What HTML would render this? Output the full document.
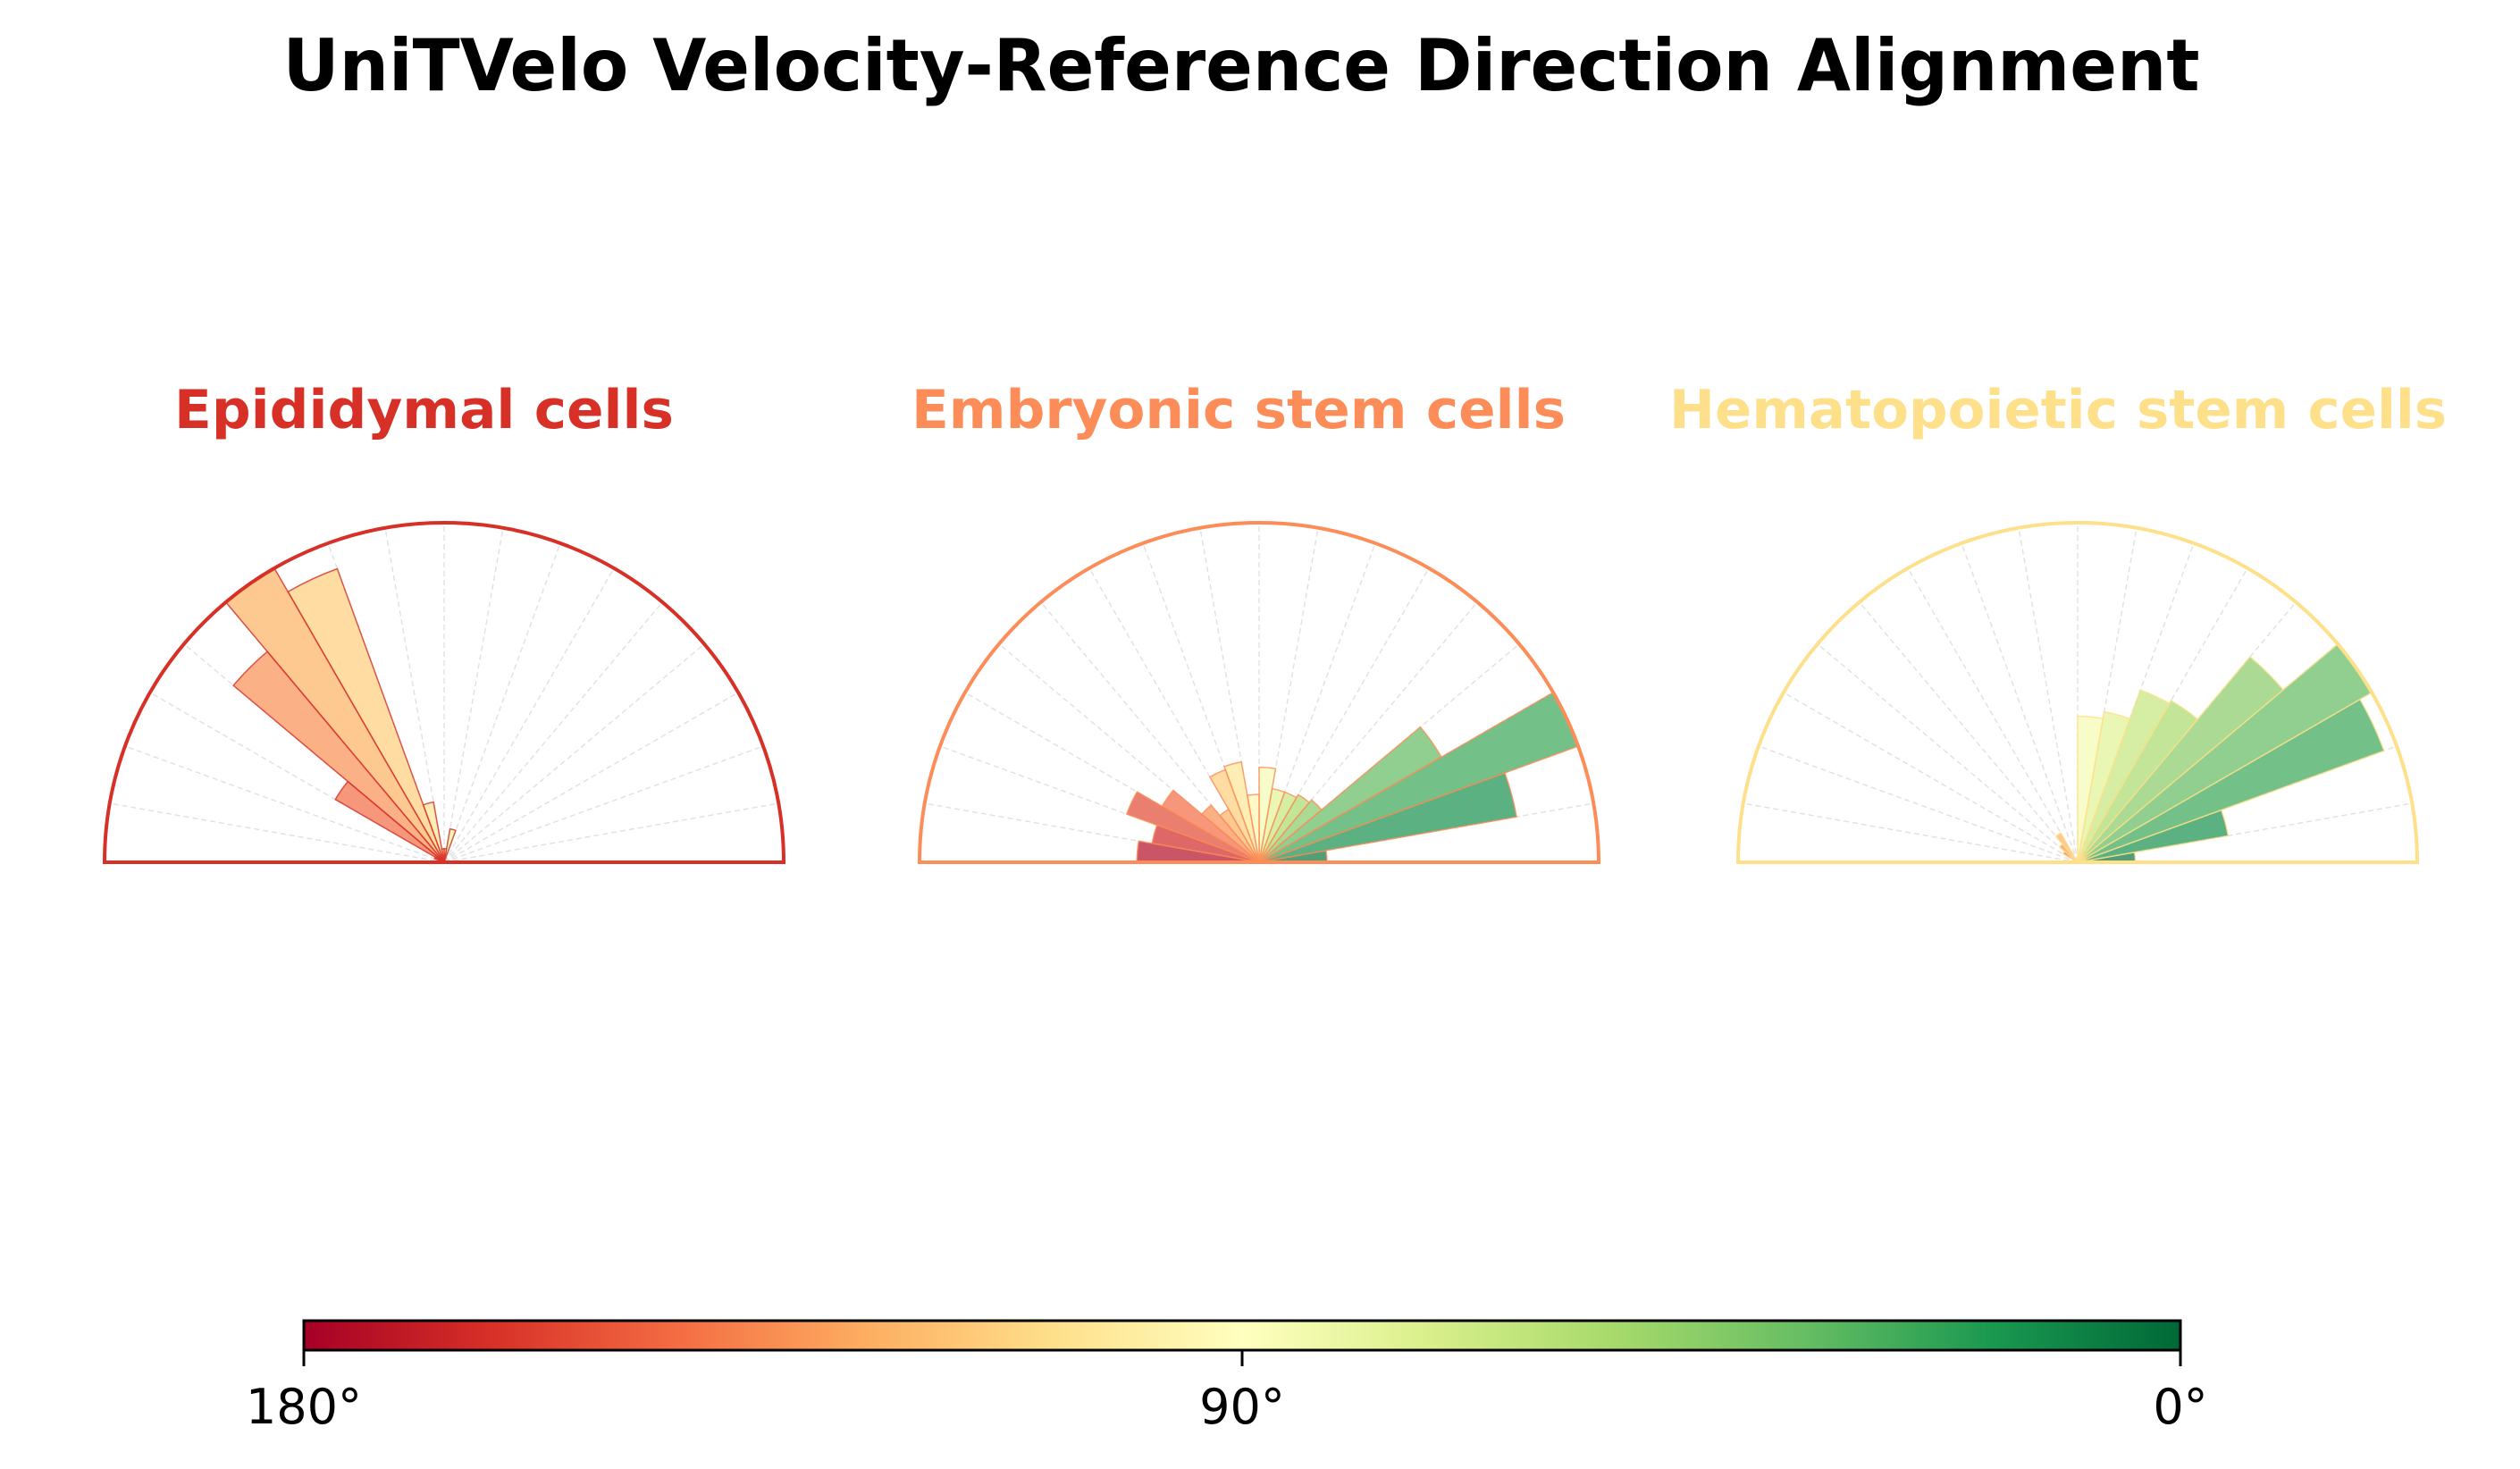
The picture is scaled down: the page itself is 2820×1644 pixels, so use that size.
<!DOCTYPE html>
<html><head><meta charset="utf-8"><style>html,body{margin:0;padding:0;background:#fff}svg{display:block}</style></head>
<body>
<svg id="chart" width="2820" height="1644" viewBox="0 0 2820 1644" xmlns="http://www.w3.org/2000/svg">
<defs>
<linearGradient id="cbgrad" x1="0" x2="1" y1="0" y2="0">
<stop offset="0" stop-color="#a50026"/><stop offset="0.1" stop-color="#d73027"/><stop offset="0.2" stop-color="#f46d43"/><stop offset="0.3" stop-color="#fdae61"/><stop offset="0.4" stop-color="#fee08b"/><stop offset="0.5" stop-color="#ffffbf"/><stop offset="0.6" stop-color="#d9ef8b"/><stop offset="0.7" stop-color="#a6d96a"/><stop offset="0.8" stop-color="#66bd63"/><stop offset="0.9" stop-color="#1a9850"/><stop offset="1" stop-color="#006837"/>
</linearGradient>
</defs>
<text x="1389" y="101" text-anchor="middle" font-family="DejaVu Sans, Liberation Sans, sans-serif" font-weight="bold" font-size="80" textLength="2145" lengthAdjust="spacingAndGlyphs">UniTVelo Velocity-Reference Direction Alignment</text>
<g id="panels"></g>
<g>
<rect x="340" y="1478" width="2100" height="33" fill="url(#cbgrad)" stroke="#000" stroke-width="3"/>
<line x1="340" y1="1511" x2="340" y2="1529" stroke="#000" stroke-width="3"/>
<line x1="1390" y1="1511" x2="1390" y2="1529" stroke="#000" stroke-width="3"/>
<line x1="2440" y1="1511" x2="2440" y2="1529" stroke="#000" stroke-width="3"/>
<text x="340" y="1593" text-anchor="middle" font-family="DejaVu Sans, Liberation Sans, sans-serif" font-size="54">180°</text>
<text x="1390" y="1593" text-anchor="middle" font-family="DejaVu Sans, Liberation Sans, sans-serif" font-size="54">90°</text>
<text x="2440" y="1593" text-anchor="middle" font-family="DejaVu Sans, Liberation Sans, sans-serif" font-size="54">0°</text>
</g>
</svg>
<script>
// bin start angles (degrees, 0 = right side), 10° bins
const binStarts = [0,10,20,30,40,50,60,70,80,90,100,110,120,130,140,150,160,170];
const panelNames = ["Epididymal cells","Embryonic stem cells","Hematopoietic stem cells"];
// relative bar lengths (fraction of max), per bin
const epididymalValues = [0,0,0,0,0,0,0,0.10,0.04,0.04,0.18,0.92,1.0,0.81,0.37,0.03,0,0];
const embryonicValues  = [0.20,0.77,1.0,0.62,0.24,0.23,0.22,0.22,0.28,0.20,0.30,0.29,0.18,0.22,0.33,0.415,0.32,0.36];
const hematopoieticValues = [0.17,0.45,0.96,1.0,0.79,0.55,0.54,0.45,0.43,0,0,0,0.10,0.07,0.05,0,0,0];
const panelColors = ["#d73027","#fc8d59","#fee08b"];

const NS = "http://www.w3.org/2000/svg";
const centers = [497,1409,2325], baseY = 965, R = 380;
const titleBoxes = [[195,754],[1020,1752],[1868,2738]];
const allValues = [epididymalValues, embryonicValues, hematopoieticValues];
const stops = [[165,0,38],[215,48,39],[244,109,67],[253,174,97],[254,224,139],[255,255,191],[217,239,139],[166,217,106],[102,189,99],[26,152,80],[0,104,55]];
function cmap(t){ t=Math.max(0,Math.min(1,t)); const p=t*10, i=Math.min(9,Math.floor(p)), f=p-i;
  const a=stops[i], b=stops[i+1]; return 'rgb('+a.map((v,k)=>Math.round(v+(b[k]-v)*f)).join(',')+')'; }
function rScale(v){ return v*R; }
function pt(cx,r,deg){ const a=deg*Math.PI/180; return [cx+r*Math.cos(a), baseY-r*Math.sin(a)]; }
const root = document.getElementById('panels');
allValues.forEach((vals,pi)=>{
  const cx = centers[pi], col = panelColors[pi];
  const g = document.createElementNS(NS,'g');
  
  
  root.appendChild(g);
  for(let d=10; d<180; d+=10){
    const [x,y]=pt(cx,R,d);
    const l=document.createElementNS(NS,'line');
    
    
    l.setAttribute('x1',cx); l.setAttribute('y1',baseY); l.setAttribute('x2',x); l.setAttribute('y2',y);
    l.setAttribute('stroke','#e0e0e0'); l.setAttribute('stroke-width','1.4'); l.setAttribute('stroke-dasharray','6,4');
    g.appendChild(l);
  }
  binStarts.forEach((b,i)=>{
    const v = vals[i]; if(!v) return;
    const r = rScale(v);
    const [x1,y1]=pt(cx,r,b), [x2,y2]=pt(cx,r,b+10);
    const p=document.createElementNS(NS,'path');
    
    
    p.setAttribute('d',`M${cx},${baseY} L${x1},${y1} A${r},${r} 0 0 0 ${x2},${y2} Z`);
    p.setAttribute('fill',cmap(1-(b+5)/180)); p.setAttribute('fill-opacity','0.7');
    p.setAttribute('stroke',col); p.setAttribute('stroke-width','1.5'); p.setAttribute('stroke-opacity','0.8');
    g.appendChild(p);
  });
  const o=document.createElementNS(NS,'path');
  
  
  o.setAttribute('d',`M${cx-R},${baseY} A${R},${R} 0 0 1 ${cx+R},${baseY} Z`);
  o.setAttribute('fill','none'); o.setAttribute('stroke',col); o.setAttribute('stroke-width','4');
  g.appendChild(o);
  const t=document.createElementNS(NS,'text');
  
  
  const [tx0,tx1]=titleBoxes[pi];
  t.setAttribute('x',(tx0+tx1)/2); t.setAttribute('y',479); t.setAttribute('text-anchor','middle');
  t.setAttribute('font-family','DejaVu Sans, Liberation Sans, sans-serif'); t.setAttribute('font-weight','bold');
  t.setAttribute('font-size','60'); t.setAttribute('fill',col);
  t.setAttribute('textLength',tx1-tx0); t.setAttribute('lengthAdjust','spacingAndGlyphs');
  t.textContent=panelNames[pi];
  g.appendChild(t);
});
</script>
</body></html>
